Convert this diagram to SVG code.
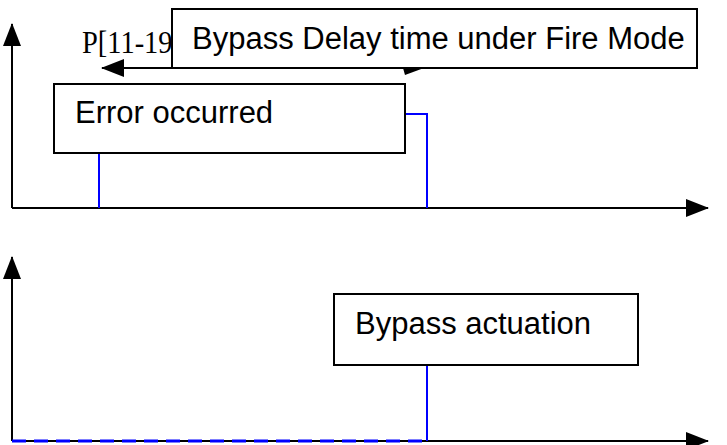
<svg xmlns="http://www.w3.org/2000/svg" width="727" height="445" viewBox="0 0 727 445">
<style>
.box{fill:#fff;stroke:#000;stroke-width:2}
.lbl{font-family:"Liberation Sans",Arial,sans-serif;font-size:31px;fill:#000}
.sig{fill:none;stroke:#0000ff;stroke-width:2}
.ax{stroke:#000;stroke-width:2;fill:none}
</style>
<defs>
<marker id="ah" markerWidth="24" markerHeight="18" refX="22" refY="9" orient="auto" markerUnits="userSpaceOnUse">
<path d="M0,0 L23,9 L0,18 Z" fill="#000"/>
</marker>
</defs>
<g id="connectors">
<line class="ax" x1="12" y1="208" x2="12" y2="24" stroke="#808080" marker-end="url(#ah)"/>
<line class="ax" x1="12" y1="208" x2="708" y2="208" marker-end="url(#ah)"/>
<polyline class="sig" points="99,208 99,114 427,114 427,208"/>
<line class="ax" x1="12" y1="441" x2="12" y2="257" marker-end="url(#ah)"/>
<line class="ax" x1="12" y1="441" x2="708" y2="441" marker-end="url(#ah)"/>
<line x1="12" y1="441" x2="427" y2="441" stroke="#0000ff" stroke-width="3" stroke-dasharray="14,8"/>
<line class="sig" x1="427" y1="441" x2="427" y2="365"/>
<line class="ax" x1="420" y1="68" x2="102" y2="68" marker-end="url(#ah)"/>
<polygon points="403,68 424,68 405,75" fill="#000"/>
</g>
<g id="p-label">
<text x="82" y="53" font-family="Liberation Serif,'Times New Roman',serif" font-size="32" textLength="100" lengthAdjust="spacingAndGlyphs">P[11-19]</text>
</g>
<g id="delay">
<rect class="box" x="172" y="9" width="525" height="59"/>
<text class="lbl" x="192" y="49">Bypass Delay time under Fire Mode</text>
</g>
<g id="error">
<rect class="box" x="54" y="84" width="351" height="69"/>
<text class="lbl" x="75" y="123">Error occurred</text>
</g>
<g id="actuation">
<rect class="box" x="334" y="294" width="304" height="71"/>
<text class="lbl" x="355" y="334">Bypass actuation</text>
</g>
</svg>
